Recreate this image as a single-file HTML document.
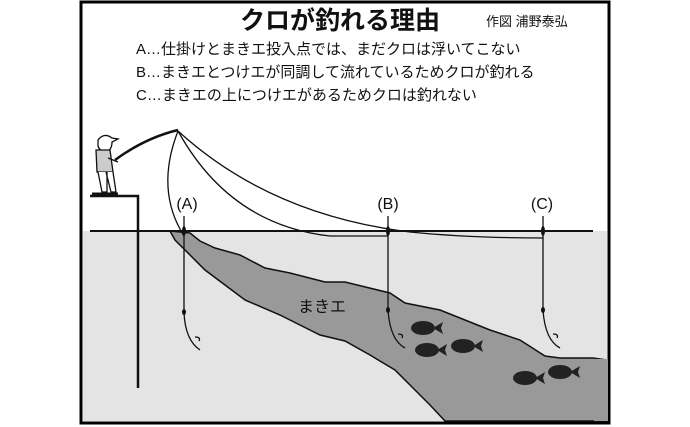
<!DOCTYPE html>
<html><head><meta charset="utf-8"><style>
body{margin:0;background:#fff;}
svg{display:block;}
text{font-family:"Liberation Sans","Noto Sans CJK JP",sans-serif;fill:#111;}
</style></head><body>
<svg width="690" height="427" viewBox="0 0 690 427" xmlns="http://www.w3.org/2000/svg">
<rect x="0" y="0" width="690" height="427" fill="#fff"/>
<rect x="81" y="2" width="528" height="421" fill="#fff" stroke="#000" stroke-width="3"/>
<rect x="83" y="231" width="524" height="190" fill="#e4e4e4"/>
<path d="M170,231 L190,233 L200,241 L215,248 L240,255 L265,268 L290,273 L325,282 L345,282 L390,293 L405,303 L440,310 L490,330 L520,340 L545,356 L560,358 L593,358 L607,360 L607,421 L445,421 L430,405 L410,385 L395,370 L370,355 L345,341 L320,335 L280,315 L245,300 L225,285 L205,270 L185,250 L175,240 Z" fill="#999" stroke="#111" stroke-width="1.5"/>
<rect x="594" y="359" width="14" height="62" fill="#999"/>
<line x1="90" y1="231" x2="593" y2="231" stroke="#111" stroke-width="2"/>
<path d="M90,196 L138,196 L138,388" fill="none" stroke="#111" stroke-width="2.5"/>
<g stroke="#111" stroke-width="1.3" fill="#fff">
<path d="M98,140 q6,-8 14,-2 l6,1 -6,3 q0,8 -6,10 q-6,0 -8,-6z"/>
<path d="M96,150 l14,0 l3,22 l-16,0z" fill="#ccc"/>
<path d="M98,172 l4,20 l5,0 l0,-20 M106,172 l5,20 l5,0 l-3,-20"/>
<path d="M92,194 l14,0 M104,194 l14,0" stroke-width="3"/>
<path d="M108,158 l10,4" />
</g>
<path d="M115,160 Q145,138 178,130" fill="none" stroke="#111" stroke-width="2.5"/>
<g fill="none" stroke="#111" stroke-width="1.3">
<path d="M178,131 Q155,190 184,236"/>
<path d="M178,131 Q230,225 330,236 L388,236"/>
<path d="M178,131 Q270,215 410,232 Q470,238 543,238"/>
<path d="M184,216 L184,312 Q185,340 200,350 M195,337 q6,0 4,4"/>
<path d="M388,216 L388,310 Q390,340 405,348 M398,334 q6,0 4,4"/>
<path d="M543,216 L543,310 Q545,340 560,348 M553,334 q6,0 4,4"/>
</g>
<g fill="#111"><ellipse cx="184" cy="231" rx="2" ry="5"/><ellipse cx="184" cy="312" rx="2" ry="3"/>
<ellipse cx="388" cy="231" rx="2" ry="5"/><ellipse cx="388" cy="310" rx="2" ry="3"/>
<ellipse cx="543" cy="231" rx="2" ry="5"/><ellipse cx="543" cy="310" rx="2" ry="3"/></g>
<g fill="#222">
<g transform="translate(423,328)"><ellipse cx="0" cy="0" rx="12" ry="7"/><path d="M10,0 L20,-6 L18,0 L20,6Z"/></g>
<g transform="translate(427,350)"><ellipse cx="0" cy="0" rx="12" ry="7"/><path d="M10,0 L20,-6 L18,0 L20,6Z"/></g>
<g transform="translate(463,346)"><ellipse cx="0" cy="0" rx="12" ry="7"/><path d="M10,0 L20,-6 L18,0 L20,6Z"/></g>
<g transform="translate(525,378)"><ellipse cx="0" cy="0" rx="12" ry="7"/><path d="M10,0 L20,-6 L18,0 L20,6Z"/></g>
<g transform="translate(560,372)"><ellipse cx="0" cy="0" rx="12" ry="7"/><path d="M10,0 L20,-6 L18,0 L20,6Z"/></g>
</g>
<text x="340" y="29" font-size="25" font-weight="bold" text-anchor="middle">クロが釣れる理由</text>
<text x="486" y="26" font-size="13">作図 浦野泰弘</text>
<text x="136" y="54" font-size="15">A…仕掛けとまきエ投入点では、まだクロは浮いてこない</text>
<text x="136" y="77" font-size="15">B…まきエとつけエが同調して流れているためクロが釣れる</text>
<text x="136" y="100" font-size="15">C…まきエの上につけエがあるためクロは釣れない</text>
<text x="187" y="209" font-size="16" text-anchor="middle">(A)</text>
<text x="388" y="209" font-size="16" text-anchor="middle">(B)</text>
<text x="542" y="209" font-size="16" text-anchor="middle">(C)</text>
<text x="322" y="312" font-size="16" text-anchor="middle">まきエ</text>
</svg>
</body></html>
